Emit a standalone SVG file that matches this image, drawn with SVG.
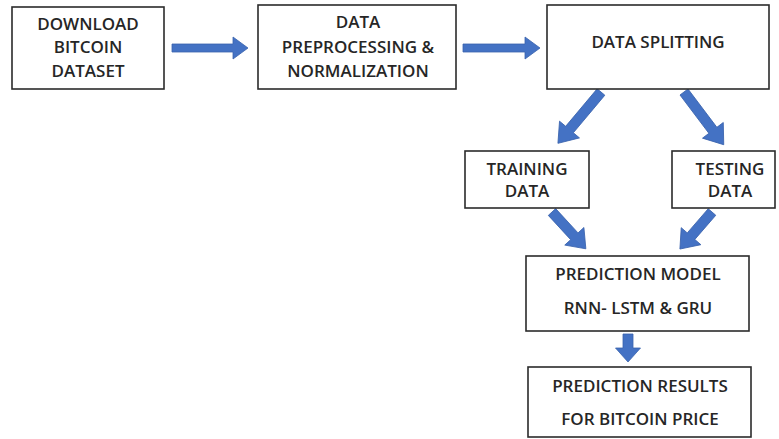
<svg xmlns="http://www.w3.org/2000/svg" width="779" height="439" viewBox="0 0 779 439">
<style>
.box{fill:#fff;stroke:#2b2b2b;stroke-width:1.6}
.t{font-family:"Open Sans","Liberation Sans",sans-serif;font-size:17px;font-weight:600;fill:#262626;text-anchor:middle}
.arrow{fill:#4472c4;stroke:#3a63ad;stroke-width:0.8}
</style>
<rect width="779" height="439" fill="#fff"/>
<g id="connectors">
<polygon class="arrow" transform="translate(172,48)" points="0,-4 61,-4 61,-11 76,0 61,11 61,4 0,4"/>
<polygon class="arrow" transform="translate(463,48)" points="0,-4 62,-4 62,-11 77,0 62,11 62,4 0,4"/>
<polygon class="arrow" transform="translate(601,92) rotate(130)" points="0,-5 49,-5 49,-13 67,0 49,13 49,5 0,5"/>
<polygon class="arrow" transform="translate(684,92) rotate(53)" points="0,-5 48,-5 48,-13 66,0 48,13 48,5 0,5"/>
<polygon class="arrow" transform="translate(552,212) rotate(47.4)" points="0,-5 33,-5 33,-13 50,0 33,13 33,5 0,5"/>
<polygon class="arrow" transform="translate(712,212) rotate(130.9)" points="0,-5 32,-5 32,-13 49,0 32,13 32,5 0,5"/>
<polygon class="arrow" transform="translate(628,334) rotate(90)" points="0,-5 14,-5 14,-12.5 28,0 14,12.5 14,5 0,5"/>
</g>
<g id="download">
<rect class="box" x="12" y="7" width="152" height="82"/>
<text class="t" x="88" y="30">DOWNLOAD</text>
<text class="t" x="88" y="53">BITCOIN</text>
<text class="t" x="88" y="77">DATASET</text>
</g>
<g id="preprocessing">
<rect class="box" x="258" y="5" width="198" height="84"/>
<text class="t" x="358" y="28">DATA</text>
<text class="t" x="358" y="53">PREPROCESSING &amp;</text>
<text class="t" x="358" y="77">NORMALIZATION</text>
</g>
<g id="splitting">
<rect class="box" x="547" y="5" width="222" height="84"/>
<text class="t" x="658" y="48">DATA SPLITTING</text>
</g>
<g id="training">
<rect class="box" x="465" y="151" width="124" height="57"/>
<text class="t" x="527" y="175">TRAINING</text>
<text class="t" x="527" y="197">DATA</text>
</g>
<g id="testing">
<rect class="box" x="672" y="151" width="103" height="57"/>
<text class="t" x="730" y="175">TESTING</text>
<text class="t" x="730" y="197">DATA</text>
</g>
<g id="model">
<rect class="box" x="526" y="256" width="223" height="75"/>
<text class="t" x="638" y="280">PREDICTION MODEL</text>
<text class="t" x="638" y="314">RNN- LSTM &amp; GRU</text>
</g>
<g id="results">
<rect class="box" x="528" y="367" width="223" height="70"/>
<text class="t" x="640" y="392">PREDICTION RESULTS</text>
<text class="t" x="640" y="425">FOR BITCOIN PRICE</text>
</g>
</svg>
